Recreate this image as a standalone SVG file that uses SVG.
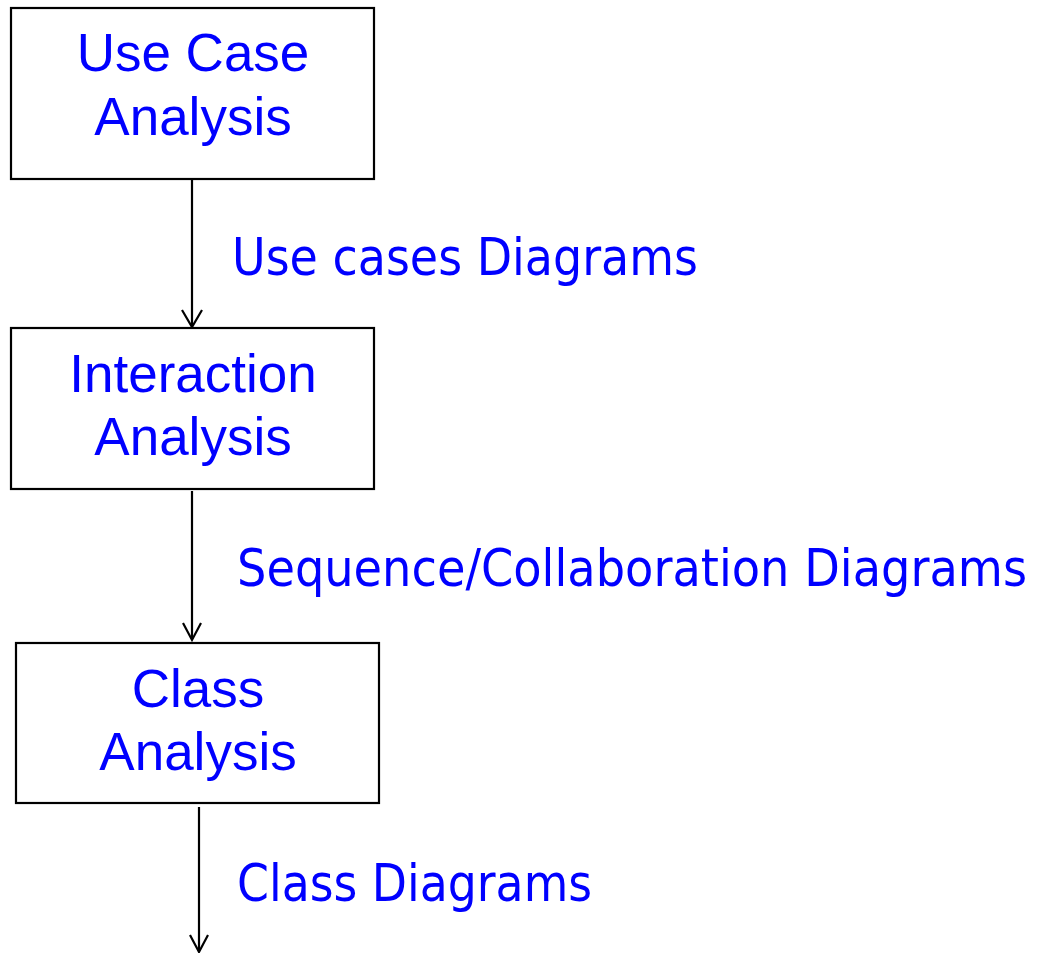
<svg xmlns="http://www.w3.org/2000/svg" width="1041" height="953" viewBox="0 0 1041 953">
<style>
.box{fill:#fff;stroke:#000;stroke-width:2.2}
.nt{font-family:"Liberation Sans",Arial,sans-serif;font-size:53px;fill:#0000ff;text-anchor:middle}
.lb{font-family:"DejaVu Sans",sans-serif;font-stretch:condensed;font-size:51px;fill:#0000ff}
.ln{stroke:#000;stroke-width:2.2;fill:none}
</style>
<rect width="1041" height="953" fill="#fff"/>
<g id="connectors">
<line class="ln" x1="192" y1="180" x2="192" y2="326"/>
<path class="ln" d="M182,310 L192,327 L202,310"/>
<line class="ln" x1="192" y1="491" x2="192" y2="639"/>
<path class="ln" d="M183,623 L192,640 L201,623"/>
<line class="ln" x1="199" y1="807" x2="199" y2="951"/>
<path class="ln" d="M190,935 L199,952 L208,935"/>
<text class="lb" x="232" y="275" textLength="466" lengthAdjust="spacingAndGlyphs">Use cases Diagrams</text>
<text class="lb" x="237" y="586" textLength="790" lengthAdjust="spacingAndGlyphs">Sequence/Collaboration Diagrams</text>
<text class="lb" x="237" y="901" textLength="355" lengthAdjust="spacingAndGlyphs">Class Diagrams</text>
</g>
<g id="n1">
<rect class="box" x="11" y="8" width="363" height="171"/>
<text class="nt" x="193" y="71">Use Case</text>
<text class="nt" x="193" y="135">Analysis</text>
</g>
<g id="n2">
<rect class="box" x="11" y="328" width="363" height="161"/>
<text class="nt" x="193" y="392">Interaction</text>
<text class="nt" x="193" y="455">Analysis</text>
</g>
<g id="n3">
<rect class="box" x="16" y="643" width="363" height="160"/>
<text class="nt" x="198" y="707">Class</text>
<text class="nt" x="198" y="770">Analysis</text>
</g>
</svg>
